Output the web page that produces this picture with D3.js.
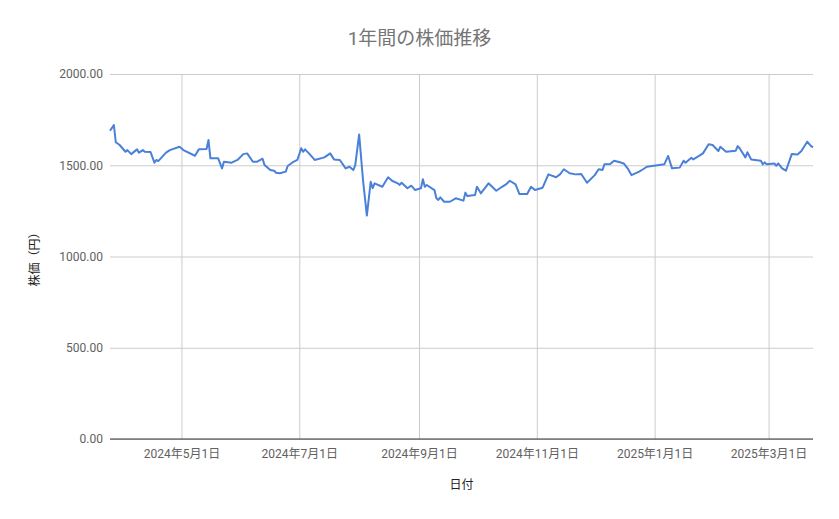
<!DOCTYPE html>
<html>
<head>
<meta charset="utf-8">
<script src="https://cdn.jsdelivr.net/npm/d3@7"></script>
<style>
  body { margin: 0; background: #fff; }
  text { font-family: Roboto, "Noto Sans CJK JP", sans-serif; }
</style>
</head>
<body>
<div id="container"></div>
<script>
// 日付と終値
const dates = [
  '2024-03-25', '2024-03-27', '2024-03-28', '2024-03-30', '2024-04-02', '2024-04-03', '2024-04-05', '2024-04-08',
  '2024-04-09', '2024-04-11', '2024-04-12', '2024-04-15', '2024-04-17', '2024-04-18', '2024-04-19', '2024-04-23',
  '2024-04-25', '2024-04-30', '2024-05-02', '2024-05-08', '2024-05-10', '2024-05-14', '2024-05-15', '2024-05-16',
  '2024-05-20', '2024-05-22', '2024-05-23', '2024-05-27', '2024-05-30', '2024-06-02', '2024-06-04', '2024-06-07',
  '2024-06-09', '2024-06-12', '2024-06-13', '2024-06-16', '2024-06-18', '2024-06-19', '2024-06-21', '2024-06-24',
  '2024-06-25', '2024-06-28', '2024-06-30', '2024-07-02', '2024-07-03', '2024-07-04', '2024-07-06', '2024-07-09',
  '2024-07-14', '2024-07-17', '2024-07-19', '2024-07-22', '2024-07-25', '2024-07-27', '2024-07-29', '2024-07-30',
  '2024-08-01', '2024-08-03', '2024-08-05', '2024-08-07', '2024-08-08', '2024-08-09', '2024-08-13', '2024-08-16',
  '2024-08-18', '2024-08-21', '2024-08-22', '2024-08-23', '2024-08-26', '2024-08-28', '2024-08-30', '2024-09-02',
  '2024-09-03', '2024-09-04', '2024-09-05', '2024-09-09', '2024-09-10', '2024-09-11', '2024-09-12', '2024-09-14',
  '2024-09-17', '2024-09-20', '2024-09-24', '2024-09-25', '2024-09-26', '2024-09-30', '2024-10-01', '2024-10-03',
  '2024-10-07', '2024-10-11', '2024-10-14', '2024-10-16', '2024-10-18', '2024-10-21', '2024-10-23', '2024-10-27',
  '2024-10-29', '2024-10-31', '2024-11-04', '2024-11-07', '2024-11-11', '2024-11-13', '2024-11-15', '2024-11-18',
  '2024-11-21', '2024-11-24', '2024-11-27', '2024-12-01', '2024-12-03', '2024-12-05', '2024-12-06', '2024-12-09',
  '2024-12-11', '2024-12-14', '2024-12-16', '2024-12-18', '2024-12-20', '2024-12-24', '2024-12-26', '2024-12-28',
  '2025-01-06', '2025-01-08', '2025-01-10', '2025-01-14', '2025-01-16', '2025-01-17', '2025-01-20', '2025-01-21',
  '2025-01-24', '2025-01-26', '2025-01-29', '2025-01-31', '2025-02-03', '2025-02-04', '2025-02-07', '2025-02-12',
  '2025-02-13', '2025-02-14', '2025-02-17', '2025-02-18', '2025-02-20', '2025-02-25', '2025-02-26', '2025-02-27',
  '2025-02-28', '2025-03-04', '2025-03-05', '2025-03-06', '2025-03-08', '2025-03-10', '2025-03-13', '2025-03-16',
  '2025-03-18', '2025-03-21', '2025-03-23', '2025-03-24'
];
const prices = [
  1689, 1720, 1626, 1611, 1574, 1583, 1561, 1587,
  1569, 1583, 1574, 1572, 1514, 1529, 1523, 1569,
  1583, 1601, 1583, 1552, 1587, 1589, 1638, 1538,
  1538, 1483, 1519, 1514, 1529, 1561, 1565, 1519,
  1519, 1536, 1501, 1474, 1470, 1459, 1456, 1465,
  1496, 1519, 1529, 1593, 1574, 1587, 1565, 1529,
  1543, 1565, 1532, 1529, 1483, 1492, 1474, 1501,
  1669, 1419, 1224, 1410, 1374, 1401, 1382, 1434,
  1415, 1401, 1392, 1404, 1374, 1388, 1364, 1374,
  1423, 1382, 1392, 1364, 1319, 1310, 1324, 1300,
  1300, 1319, 1306, 1350, 1331, 1337, 1382, 1346,
  1401, 1360, 1382, 1395, 1415, 1395, 1342, 1342,
  1382, 1364, 1377, 1450, 1434, 1450, 1478, 1456,
  1450, 1452, 1404, 1446, 1478, 1474, 1505, 1507,
  1525, 1516, 1510, 1483, 1446, 1465, 1478, 1492,
  1505, 1551, 1483, 1487, 1525, 1514, 1541, 1532,
  1551, 1565, 1615, 1611, 1578, 1601, 1574, 1580,
  1605, 1593, 1543, 1571, 1532, 1525, 1505, 1516,
  1505, 1510, 1497, 1510, 1483, 1470, 1561, 1559,
  1578, 1629, 1605, 1598
];
const yTicks = [0, 500, 1000, 1500, 2000];
const xTicks = ['2024-05-01', '2024-07-01', '2024-09-01', '2024-11-01', '2025-01-01', '2025-03-01'];

const width = 839, height = 519;
const margin = { top: 74, right: 26, bottom: 80, left: 110 };
const parse = d3.timeParse('%Y-%m-%d');
const fmtDate = d3.timeFormat('%Y年%-m月%-d日');

const points = dates.map((d, i) => ({ date: parse(d), value: prices[i] }));

const svg = d3.select('#container').append('svg')
    .attr('width', width).attr('height', height);

const x = d3.scaleTime()
    .domain(d3.extent(points, d => d.date))
    .range([margin.left, width - margin.right]);
const y = d3.scaleLinear()
    .domain([0, 2000])
    .range([height - margin.bottom, margin.top]);

// 横グリッド + Y軸ラベル
const yAxis = svg.append('g')
    .attr('transform', `translate(${margin.left},0)`)
    .call(d3.axisLeft(y).tickValues(yTicks).tickFormat(d3.format('.2f'))
        .tickSize(-(width - margin.left - margin.right)).tickPadding(7));
yAxis.select('.domain').remove();
yAxis.selectAll('.tick line').attr('stroke', '#cccccc');
yAxis.selectAll('.tick text').attr('fill', '#616161').style('font-size', '12px');

// 縦グリッド + X軸ラベル
const xAxis = svg.append('g')
    .attr('transform', `translate(0,${height - margin.bottom})`)
    .call(d3.axisBottom(x).tickValues(xTicks.map(parse)).tickFormat(fmtDate)
        .tickSize(-(height - margin.top - margin.bottom)).tickPadding(10));
xAxis.select('.domain').remove();
xAxis.selectAll('.tick line').attr('stroke', '#cccccc');
xAxis.selectAll('.tick text').attr('fill', '#616161').style('font-size', '12px');

// ゼロのベースライン
svg.append('line')
    .attr('x1', margin.left).attr('x2', width - margin.right)
    .attr('y1', y(0)).attr('y2', y(0))
    .attr('stroke', '#333333').attr('stroke-width', 1);

// 株価の線
svg.append('path')
    .datum(points)
    .attr('fill', 'none')
    .attr('stroke', '#4a80d8')
    .attr('stroke-width', 2)
    .attr('stroke-linejoin', 'round')
    .attr('d', d3.line().x(d => x(d.date)).y(d => y(d.value)));

// タイトル・軸タイトル
svg.append('text')
    .attr('x', width / 2).attr('y', 45)
    .attr('text-anchor', 'middle')
    .attr('fill', '#757575').style('font-size', '19px')
    .text('1年間の株価推移');

svg.append('text')
    .attr('x', (margin.left + width - margin.right) / 2).attr('y', 489)
    .attr('text-anchor', 'middle')
    .attr('fill', '#222222').style('font-size', '12px')
    .text('日付');

svg.append('text')
    .attr('transform', `translate(39,${(margin.top + height - margin.bottom) / 2}) rotate(-90)`)
    .attr('text-anchor', 'middle')
    .attr('fill', '#222222').style('font-size', '12px')
    .text('株価（円）');
</script>
</body>
</html>
